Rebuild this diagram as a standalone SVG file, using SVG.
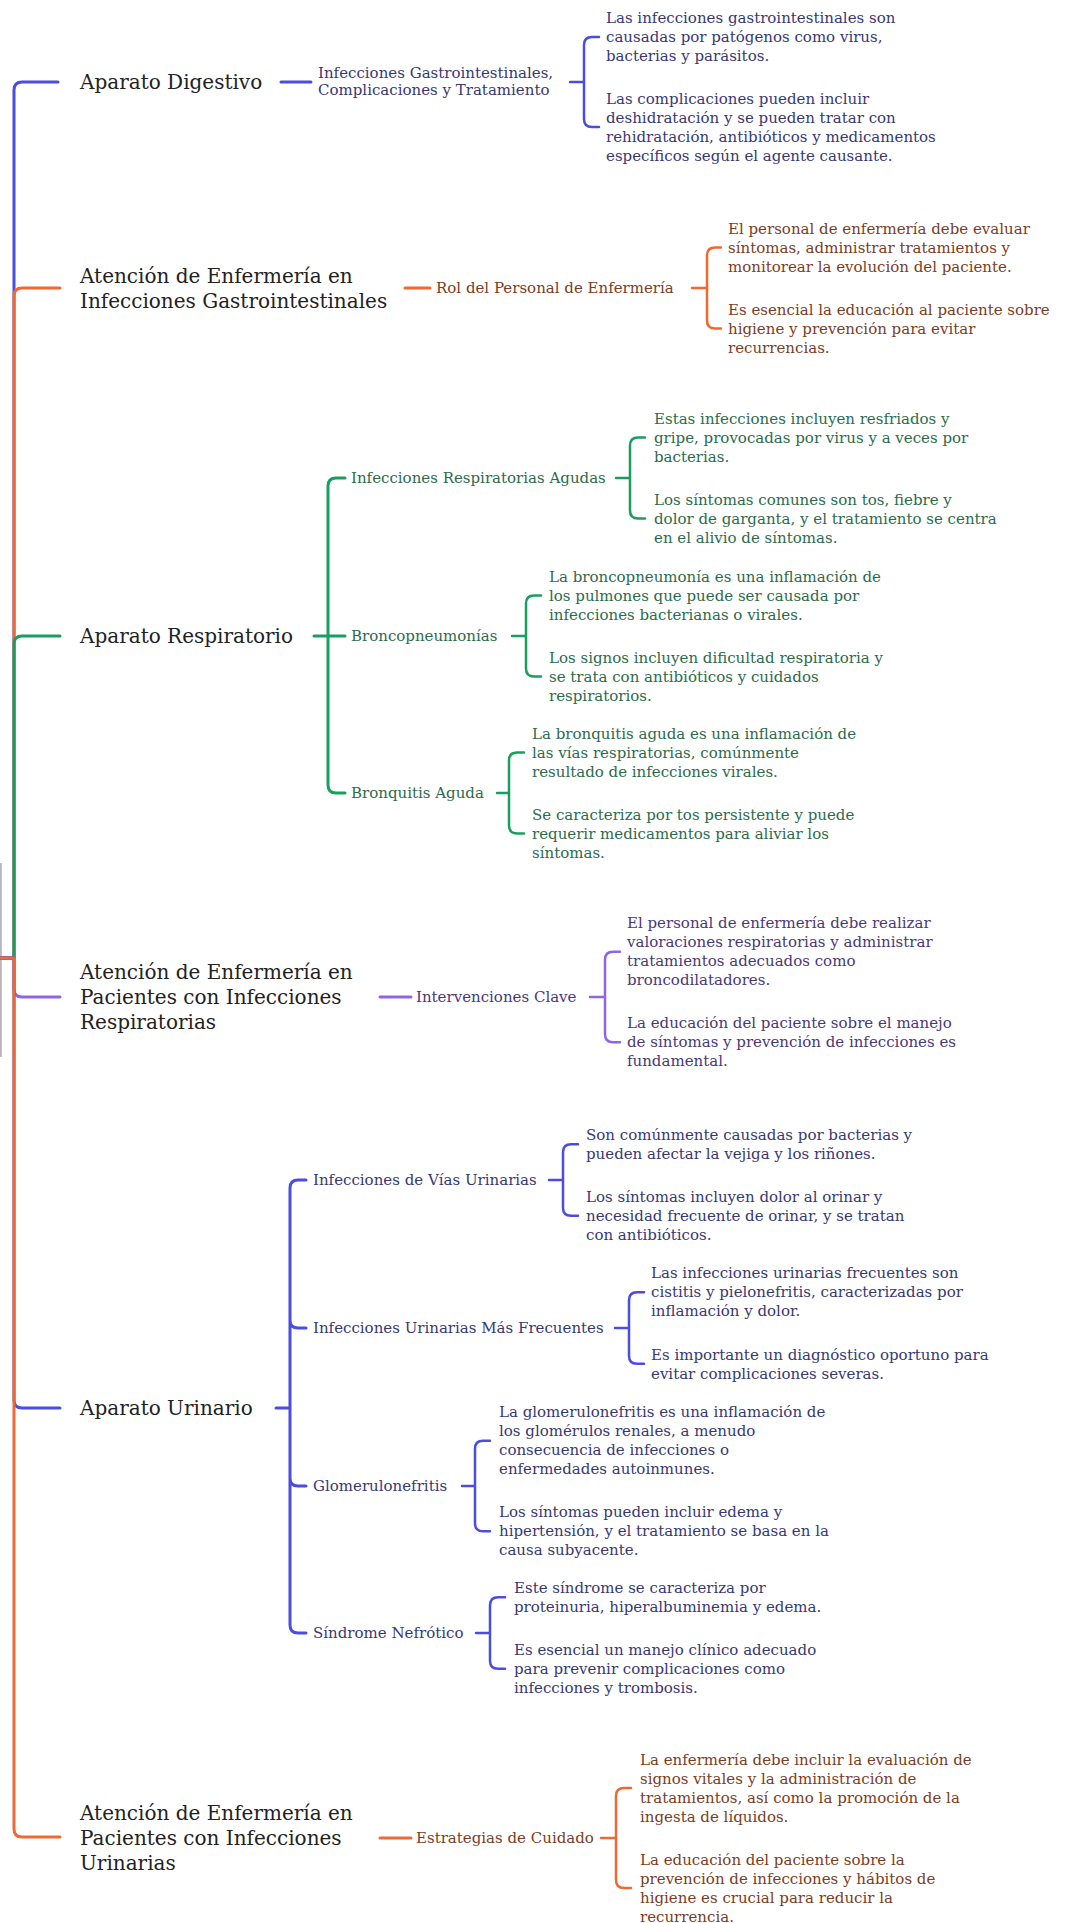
<svg xmlns="http://www.w3.org/2000/svg" width="1073" height="1923" viewBox="0 0 1073 1923">
<style>
text{font-family:"DejaVu Serif","Liberation Serif",serif}
.l1{font-size:20px;fill:#222}
.l2{font-size:15px}
.lf{font-size:15px}
.tb{fill:#383872}.to{fill:#7a3d25}.tg{fill:#2c6b4d}.tp{fill:#4a3877}
.ln{fill:none;stroke-width:3;stroke-linecap:round;stroke-linejoin:round}
.br{fill:none;stroke-width:2.5;stroke-linecap:round;stroke-linejoin:round}
.sb{stroke:#4b4de0}.so{stroke:#ef6a32}.sg{stroke:#1a9e5f}.sp{stroke:#9064e3}
</style>
<rect width="1073" height="1923" fill="#fff"/>
<g id="connectors">
<line x1="0.8" y1="863" x2="0.8" y2="1057" stroke="#b5b5bd" stroke-width="2"/>
<path class="ln sb" d="M0 958H14V90Q14 82 22 82H58"/>
<path class="ln so" d="M0 958H14V296Q14 288 22 288H60"/>
<path class="ln sg" d="M0 958H14V644Q14 636 22 636H60"/>
<path class="ln sp" d="M0 958H14V989Q14 997 22 997H60"/>
<path class="ln sb" d="M0 958H14V1400Q14 1408 22 1408H60"/>
<path class="ln so" d="M0 958H14V1829Q14 1837 22 1837H60"/>
<path class="ln sb" d="M281 82H311"/>
<path class="br sb" d="M570 82H584M599 37H592Q584 37 584 45V119Q584 127 592 127H599"/>
<path class="ln so" d="M405 288H430"/>
<path class="br so" d="M692 288H707M721 247.5H715Q707 247.5 707 255.5V320.5Q707 328.5 715 328.5H721"/>
<path class="ln sg" d="M314 636H345M328 636V486Q328 478 336 478H345M328 636V785Q328 793 336 793H345"/>
<path class="br sg" d="M616 478H630M645 437.5H638Q630 437.5 630 445.5V510.5Q630 518.5 638 518.5H645"/>
<path class="br sg" d="M512 636H526M541 595.5H534Q526 595.5 526 603.5V668.5Q526 676.5 534 676.5H541"/>
<path class="br sg" d="M497 793H509M524 752.5H517Q509 752.5 509 760.5V825.5Q509 833.5 517 833.5H524"/>
<path class="ln sp" d="M380 997H411"/>
<path class="br sp" d="M590 997H605M620 951.75H613Q605 951.75 605 959.75V1034.25Q605 1042.25 613 1042.25H620"/>
<path class="ln sb" d="M276 1408H290M290 1408V1188Q290 1180 298 1180H306M290 1408V1320Q290 1328 298 1328H306M290 1408V1478Q290 1486 298 1486H306M290 1408V1625Q290 1633 298 1633H306"/>
<path class="br sb" d="M549 1180H563M578 1144.25H571Q563 1144.25 563 1152.25V1207.75Q563 1215.75 571 1215.75H578"/>
<path class="br sb" d="M615 1328H629M644 1292.25H637Q629 1292.25 629 1300.25V1355.75Q629 1363.75 637 1363.75H644"/>
<path class="br sb" d="M462 1486H475M490 1440.75H483Q475 1440.75 475 1448.75V1523.25Q475 1531.25 483 1531.25H490"/>
<path class="br sb" d="M476 1633H490M505 1597.25H498Q490 1597.25 490 1605.25V1660.75Q490 1668.75 498 1668.75H505"/>
<path class="ln so" d="M380 1838H411"/>
<path class="br so" d="M601 1838H616M631 1788H624Q616 1788 616 1796V1880Q616 1888 624 1888H631"/>
</g>

<g id="n-digestivo"><text class="l1" x="80" y="89">Aparato Digestivo</text></g>
<g id="n-digestivo-inf"><text class="l2 tb" x="318" y="78">Infecciones Gastrointestinales,<tspan x="318" dy="17">Complicaciones y Tratamiento</tspan></text></g>
<g id="n-digestivo-leaf1"><text class="lf tb" x="606" y="22.75">Las infecciones gastrointestinales son<tspan x="606" dy="19">causadas por patógenos como virus,</tspan><tspan x="606" dy="19">bacterias y parásitos.</tspan></text></g>
<g id="n-digestivo-leaf2"><text class="lf tb" x="606" y="103.75">Las complicaciones pueden incluir<tspan x="606" dy="19">deshidratación y se pueden tratar con</tspan><tspan x="606" dy="19">rehidratación, antibióticos y medicamentos</tspan><tspan x="606" dy="19">específicos según el agente causante.</tspan></text></g>

<g id="n-gastro"><text class="l1" x="80" y="282.5">Atención de Enfermería en<tspan x="80" dy="25">Infecciones Gastrointestinales</tspan></text></g>
<g id="n-gastro-rol"><text class="l2 to" x="436" y="293">Rol del Personal de Enfermería</text></g>
<g id="n-gastro-leaf1"><text class="lf to" x="728" y="233.5">El personal de enfermería debe evaluar<tspan x="728" dy="19">síntomas, administrar tratamientos y</tspan><tspan x="728" dy="19">monitorear la evolución del paciente.</tspan></text></g>
<g id="n-gastro-leaf2"><text class="lf to" x="728" y="314.5">Es esencial la educación al paciente sobre<tspan x="728" dy="19">higiene y prevención para evitar</tspan><tspan x="728" dy="19">recurrencias.</tspan></text></g>

<g id="n-resp"><text class="l1" x="80" y="643">Aparato Respiratorio</text></g>
<g id="n-resp-ira"><text class="l2 tg" x="351" y="483">Infecciones Respiratorias Agudas</text></g>
<g id="n-resp-ira-leaf1"><text class="lf tg" x="654" y="423.5">Estas infecciones incluyen resfriados y<tspan x="654" dy="19">gripe, provocadas por virus y a veces por</tspan><tspan x="654" dy="19">bacterias.</tspan></text></g>
<g id="n-resp-ira-leaf2"><text class="lf tg" x="654" y="504.5">Los síntomas comunes son tos, fiebre y<tspan x="654" dy="19">dolor de garganta, y el tratamiento se centra</tspan><tspan x="654" dy="19">en el alivio de síntomas.</tspan></text></g>
<g id="n-resp-bn"><text class="l2 tg" x="351" y="641">Broncopneumonías</text></g>
<g id="n-resp-bn-leaf1"><text class="lf tg" x="549" y="581.5">La broncopneumonía es una inflamación de<tspan x="549" dy="19">los pulmones que puede ser causada por</tspan><tspan x="549" dy="19">infecciones bacterianas o virales.</tspan></text></g>
<g id="n-resp-bn-leaf2"><text class="lf tg" x="549" y="662.5">Los signos incluyen dificultad respiratoria y<tspan x="549" dy="19">se trata con antibióticos y cuidados</tspan><tspan x="549" dy="19">respiratorios.</tspan></text></g>
<g id="n-resp-ba"><text class="l2 tg" x="351" y="798">Bronquitis Aguda</text></g>
<g id="n-resp-ba-leaf1"><text class="lf tg" x="532" y="738.5">La bronquitis aguda es una inflamación de<tspan x="532" dy="19">las vías respiratorias, comúnmente</tspan><tspan x="532" dy="19">resultado de infecciones virales.</tspan></text></g>
<g id="n-resp-ba-leaf2"><text class="lf tg" x="532" y="819.5">Se caracteriza por tos persistente y puede<tspan x="532" dy="19">requerir medicamentos para aliviar los</tspan><tspan x="532" dy="19">síntomas.</tspan></text></g>

<g id="n-resp-nursing"><text class="l1" x="80" y="979">Atención de Enfermería en<tspan x="80" dy="25">Pacientes con Infecciones</tspan><tspan x="80" dy="25">Respiratorias</tspan></text></g>
<g id="n-resp-nursing-int"><text class="l2 tp" x="416" y="1002">Intervenciones Clave</text></g>
<g id="n-resp-nursing-leaf1"><text class="lf tp" x="627" y="928.25">El personal de enfermería debe realizar<tspan x="627" dy="19">valoraciones respiratorias y administrar</tspan><tspan x="627" dy="19">tratamientos adecuados como</tspan><tspan x="627" dy="19">broncodilatadores.</tspan></text></g>
<g id="n-resp-nursing-leaf2"><text class="lf tp" x="627" y="1028.25">La educación del paciente sobre el manejo<tspan x="627" dy="19">de síntomas y prevención de infecciones es</tspan><tspan x="627" dy="19">fundamental.</tspan></text></g>

<g id="n-urin"><text class="l1" x="80" y="1415">Aparato Urinario</text></g>
<g id="n-urin-ivu"><text class="l2 tb" x="313" y="1185">Infecciones de Vías Urinarias</text></g>
<g id="n-urin-ivu-leaf1"><text class="lf tb" x="586" y="1139.75">Son comúnmente causadas por bacterias y<tspan x="586" dy="19">pueden afectar la vejiga y los riñones.</tspan></text></g>
<g id="n-urin-ivu-leaf2"><text class="lf tb" x="586" y="1201.75">Los síntomas incluyen dolor al orinar y<tspan x="586" dy="19">necesidad frecuente de orinar, y se tratan</tspan><tspan x="586" dy="19">con antibióticos.</tspan></text></g>
<g id="n-urin-freq"><text class="l2 tb" x="313" y="1333">Infecciones Urinarias Más Frecuentes</text></g>
<g id="n-urin-freq-leaf1"><text class="lf tb" x="651" y="1278.25">Las infecciones urinarias frecuentes son<tspan x="651" dy="19">cistitis y pielonefritis, caracterizadas por</tspan><tspan x="651" dy="19">inflamación y dolor.</tspan></text></g>
<g id="n-urin-freq-leaf2"><text class="lf tb" x="651" y="1359.75">Es importante un diagnóstico oportuno para<tspan x="651" dy="19">evitar complicaciones severas.</tspan></text></g>
<g id="n-urin-glom"><text class="l2 tb" x="313" y="1491">Glomerulonefritis</text></g>
<g id="n-urin-glom-leaf1"><text class="lf tb" x="499" y="1417.25">La glomerulonefritis es una inflamación de<tspan x="499" dy="19">los glomérulos renales, a menudo</tspan><tspan x="499" dy="19">consecuencia de infecciones o</tspan><tspan x="499" dy="19">enfermedades autoinmunes.</tspan></text></g>
<g id="n-urin-glom-leaf2"><text class="lf tb" x="499" y="1517.25">Los síntomas pueden incluir edema y<tspan x="499" dy="19">hipertensión, y el tratamiento se basa en la</tspan><tspan x="499" dy="19">causa subyacente.</tspan></text></g>
<g id="n-urin-nef"><text class="l2 tb" x="313" y="1638">Síndrome Nefrótico</text></g>
<g id="n-urin-nef-leaf1"><text class="lf tb" x="514" y="1592.75">Este síndrome se caracteriza por<tspan x="514" dy="19">proteinuria, hiperalbuminemia y edema.</tspan></text></g>
<g id="n-urin-nef-leaf2"><text class="lf tb" x="514" y="1654.75">Es esencial un manejo clínico adecuado<tspan x="514" dy="19">para prevenir complicaciones como</tspan><tspan x="514" dy="19">infecciones y trombosis.</tspan></text></g>

<g id="n-urin-nursing"><text class="l1" x="80" y="1820">Atención de Enfermería en<tspan x="80" dy="25">Pacientes con Infecciones</tspan><tspan x="80" dy="25">Urinarias</tspan></text></g>
<g id="n-urin-nursing-est"><text class="l2 to" x="416" y="1843">Estrategias de Cuidado</text></g>
<g id="n-urin-nursing-leaf1"><text class="lf to" x="640" y="1764.5">La enfermería debe incluir la evaluación de<tspan x="640" dy="19">signos vitales y la administración de</tspan><tspan x="640" dy="19">tratamientos, así como la promoción de la</tspan><tspan x="640" dy="19">ingesta de líquidos.</tspan></text></g>
<g id="n-urin-nursing-leaf2"><text class="lf to" x="640" y="1864.5">La educación del paciente sobre la<tspan x="640" dy="19">prevención de infecciones y hábitos de</tspan><tspan x="640" dy="19">higiene es crucial para reducir la</tspan><tspan x="640" dy="19">recurrencia.</tspan></text></g>
</svg>
